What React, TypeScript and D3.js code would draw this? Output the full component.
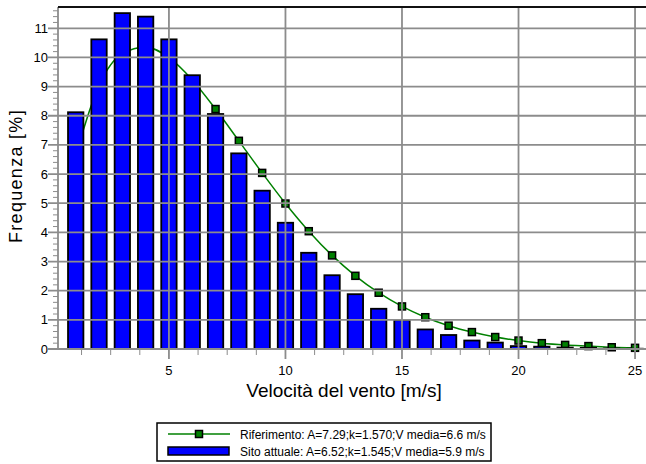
import React from "react";
import * as d3 from "d3";

// Wind speed classes [m/s]
const speeds = [1, 2, 3, 4, 5, 6, 7, 8, 9, 10, 11, 12, 13, 14, 15, 16, 17, 18, 19, 20, 21, 22, 23, 24, 25];

// Measured frequency at the current site [%]
const siteFreq = [8.12, 10.62, 11.52, 11.4, 10.62, 9.39, 8.06, 6.71, 5.43, 4.33, 3.3, 2.53, 1.88, 1.38, 0.99, 0.67, 0.48, 0.29, 0.22, 0.1, 0.08, 0.05, 0.04, 0.02, 0.01];

// Reference Weibull distribution frequency [%]
const refFreq = [6.64, 9.04, 10.13, 10.36, 9.99, 9.23, 8.23, 7.14, 6.04, 4.99, 4.04, 3.21, 2.51, 1.93, 1.46, 1.09, 0.8, 0.58, 0.41, 0.29, 0.2, 0.14, 0.1, 0.06, 0.04];

const yTicks = [0, 1, 2, 3, 4, 5, 6, 7, 8, 9, 10, 11];
const xTicks = [5, 10, 15, 20, 25];

const legendRef = "Riferimento: A=7.29;k=1.570;V media=6.6 m/s";
const legendSite = "Sito attuale: A=6.52;k=1.545;V media=5.9 m/s";
const xTitle = "Velocità del vento [m/s]";
const yTitle = "Frequenza [%]";

const W = 646;
const H = 464;
const FONT = "'Liberation Sans', Arial, Helvetica, sans-serif";

export default function App() {
  const left = 58;
  const right = 646;
  const top = 7;
  const bottom = 349;

  const x = d3.scaleLinear().domain([0.24, 25.47]).range([left, right]);
  const y = d3.scaleLinear().domain([0, 11.73]).range([bottom, top]);

  const barHalf = 0.33;
  const line = d3
    .line<number>()
    .x((_, i) => x(speeds[i]))
    .y((d) => y(d))
    .curve(d3.curveMonotoneX);

  const xMinor = d3.range(1.25, 25.01, 1.25).filter((v) => Math.abs(v % 5) > 1e-6);
  const yMinor = d3.range(0, 11.7, 0.2).filter((v) => Math.abs(v - Math.round(v)) > 1e-6);

  const grid = "#8c8c8c";

  return (
    <div style={{ position: "absolute", left: 0, top: 0 }}>
      <svg width={W} height={H} style={{ display: "block", fontFamily: FONT }}>
        <rect x={0} y={0} width={W} height={H} fill="#fff" />

        {/* reference curve, drawn under the bars */}
        <path d={line(refFreq) || ""} fill="none" stroke="#008000" strokeWidth={1.5} />
        {refFreq.map((v, i) => (
          <rect
            key={"m" + i}
            x={x(speeds[i]) - 3.5}
            y={y(v) - 3.5}
            width={7}
            height={7}
            fill="#008000"
            stroke="#000"
            strokeWidth={1.5}
          />
        ))}

        {/* site bars */}
        {siteFreq.map((v, i) => (
          <rect
            key={"b" + i}
            x={x(speeds[i] - barHalf)}
            y={y(v)}
            width={x(speeds[i] + barHalf) - x(speeds[i] - barHalf)}
            height={bottom - y(v)}
            fill="#0000ff"
            stroke="#000"
            strokeWidth={1.8}
          />
        ))}

        {/* grid */}
        {yTicks.slice(1).map((t) => (
          <line key={"gy" + t} x1={left - 10} x2={right} y1={y(t)} y2={y(t)} stroke={grid} strokeWidth={1.8} />
        ))}
        {xTicks.map((t) => (
          <line key={"gx" + t} x1={x(t)} x2={x(t)} y1={top} y2={bottom + 10} stroke={grid} strokeWidth={1.8} />
        ))}

        {/* axes */}
        <line x1={left} x2={left} y1={top} y2={bottom} stroke={grid} strokeWidth={1.8} />
        <line x1={left - 10} x2={right} y1={bottom} y2={bottom} stroke={grid} strokeWidth={1.8} />
        <line x1={left} x2={right} y1={top} y2={top} stroke="#111" strokeWidth={2} />
        {yMinor.map((t, i) => (
          <line key={"ym" + i} x1={left - 5} x2={left} y1={y(t)} y2={y(t)} stroke={grid} strokeWidth={1} />
        ))}
        {xMinor.map((t, i) => (
          <line key={"xm" + i} x1={x(t)} x2={x(t)} y1={bottom + 1} y2={bottom + 6} stroke={grid} strokeWidth={1} />
        ))}

        {/* tick labels */}
        {yTicks.map((t) => (
          <text key={"ly" + t} x={left - 10} y={y(t) + 4.5} textAnchor="end" fontSize={13} fill="#000">
            {t}
          </text>
        ))}
        {xTicks.map((t) => (
          <text key={"lx" + t} x={x(t)} y={375} textAnchor="middle" fontSize={13} fill="#000">
            {t}
          </text>
        ))}

        {/* axis titles */}
        <text x={344} y={397} textAnchor="middle" fontSize={19} fill="#000">
          {xTitle}
        </text>
        <text
          transform={`translate(22,176) rotate(-90)`}
          textAnchor="middle"
          fontSize={18}
          letterSpacing={1.3}
          fill="#000"
        >
          {yTitle}
        </text>

        {/* legend */}
        <rect x={157} y={423} width={334} height={38} fill="#fff" stroke="#000" strokeWidth={1.5} />
        <line x1={168} x2={230} y1={434} y2={434} stroke="#008000" strokeWidth={1.5} />
        <rect x={195.5} y={430.5} width={7} height={7} fill="#008000" stroke="#000" strokeWidth={1.5} />
        <text x={240} y={438.5} fontSize={12} fill="#000">
          {legendRef}
        </text>
        <rect x={168} y={447} width={61} height={8} fill="#0000ff" stroke="#000" strokeWidth={1.5} />
        <text x={240} y={455.5} fontSize={12} fill="#000">
          {legendSite}
        </text>
      </svg>
    </div>
  );
}
